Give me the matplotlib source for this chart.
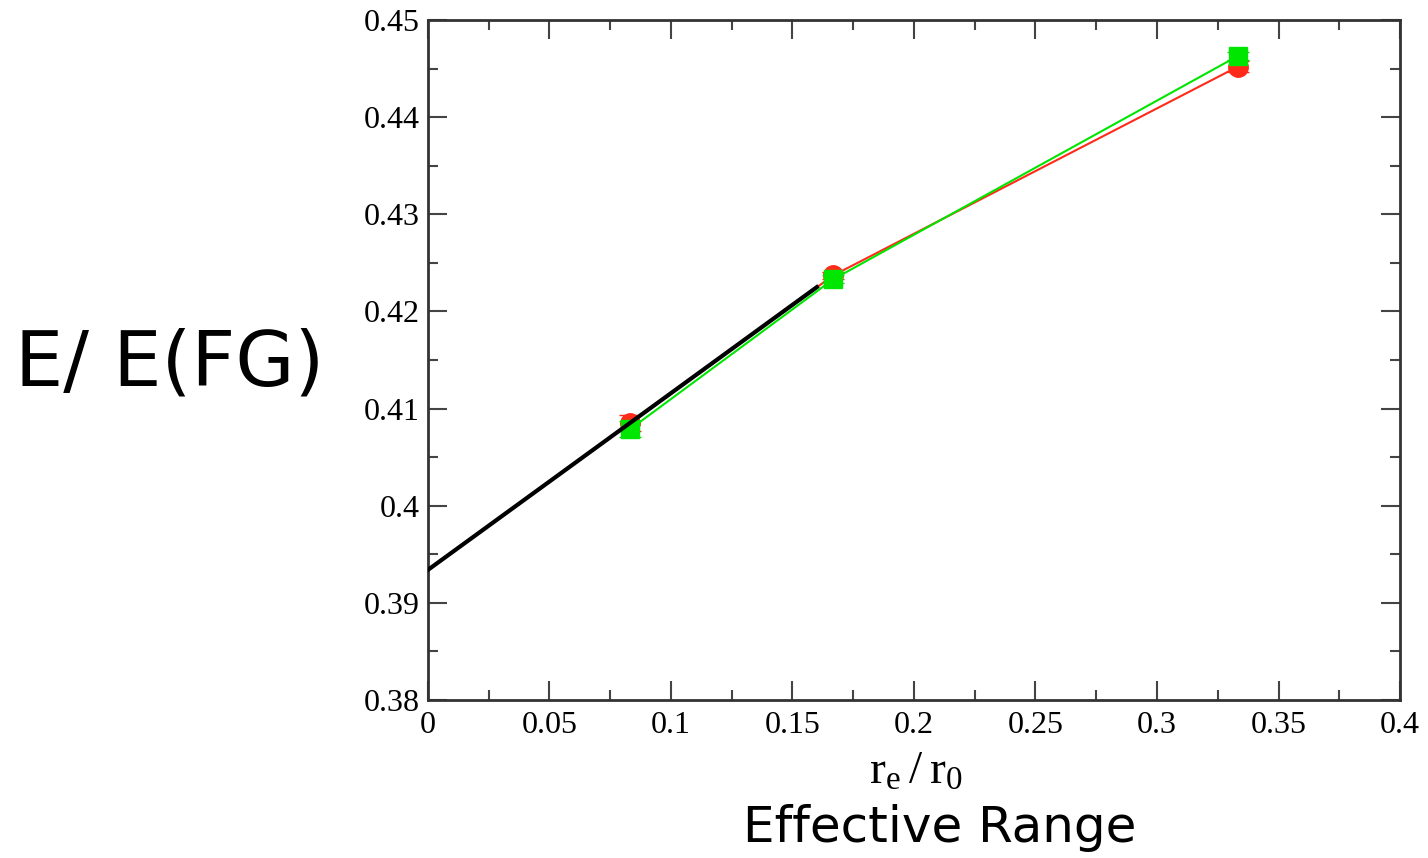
import matplotlib
matplotlib.use('Agg')
import matplotlib.pyplot as plt
import numpy as np
from matplotlib.ticker import MultipleLocator

# effective range data, two series with small error bars
x = [0.0833, 0.1667, 0.3333]
red_y = [0.4085, 0.4237, 0.4452]
red_err = [0.0008, 0.0004, 0.0006]
green_y = [0.4079, 0.4233, 0.4463]
green_err = [0.0008, 0.0004, 0.0004]

# linear extrapolation to zero range
fit_x = [0.0, 0.16]
fit_y = [0.3934, 0.4225]

xlabels = ['0', '0.05', '0.1', '0.15', '0.2', '0.25', '0.3', '0.35', '0.4']
ylabels = ['0.38', '0.39', '0.4', '0.41', '0.42', '0.43', '0.44', '0.45']

fig = plt.figure(figsize=(14.28, 8.58), dpi=100)
ax = fig.add_axes([0.2997, 0.1841, 0.6807, 0.7926])

ax.errorbar(x, red_y, yerr=red_err, color='#ff2a1a', marker='o', markersize=14,
            lw=1.5, capsize=8, elinewidth=2, zorder=3)
ax.errorbar(x, green_y, yerr=green_err, color='#00e600', marker='s', markersize=13,
            lw=1.5, capsize=8, elinewidth=2, zorder=4)
ax.plot(fit_x, fit_y, color='black', lw=3, zorder=5)

ax.set_xlim(0, 0.4)
ax.set_ylim(0.38, 0.45)
ax.set_xticks(np.arange(0, 0.401, 0.05))
ax.set_xticklabels(xlabels, family='Liberation Serif', fontsize=23)
ax.set_yticks(np.arange(0.38, 0.4501, 0.01))
ax.set_yticklabels(ylabels, family='Liberation Serif', fontsize=23)
ax.xaxis.set_minor_locator(MultipleLocator(0.025))
ax.yaxis.set_minor_locator(MultipleLocator(0.005))

ax.tick_params(which='both', direction='in', top=True, right=True, width=1.5, color='#444444')
ax.tick_params(which='major', length=14)
ax.tick_params(which='minor', length=7)
ax.tick_params(axis='x', pad=8)
ax.tick_params(axis='y', pad=6)
for s in ax.spines.values():
    s.set_linewidth(2)
    s.set_color('#333333')

fig.text(0.641, 0.100, r'$\mathregular{r_e\,/\,r_0}$', family='Liberation Serif',
         fontsize=34, ha='center', va='center')
fig.text(0.658, 0.035, 'Effective Range', fontsize=36, ha='center', va='center')
fig.text(0.119, 0.575, 'E/ E(FG)', fontsize=55, ha='center', va='center')

fig.savefig('out.png', dpi=100)
